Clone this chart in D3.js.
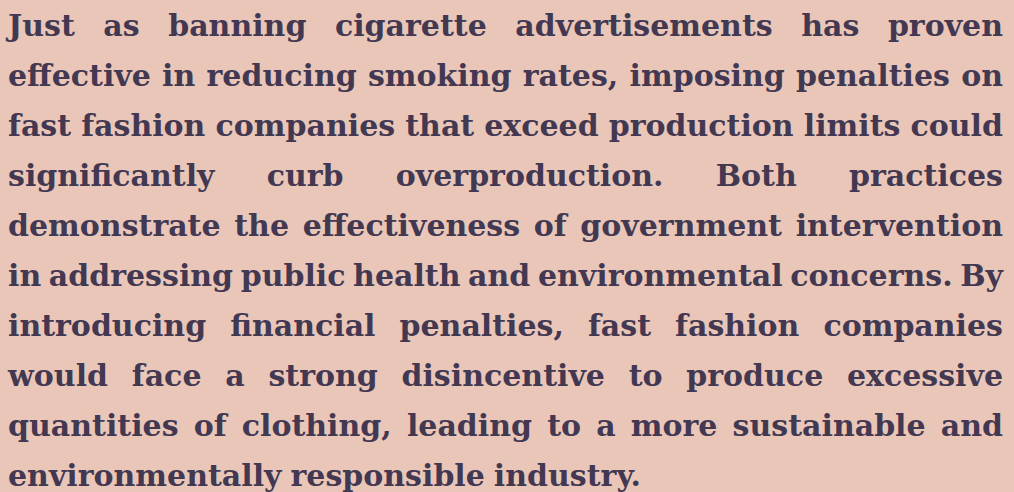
<!DOCTYPE html>
<html>
<head>
<meta charset="utf-8">
<script src="https://cdn.jsdelivr.net/npm/d3@7"></script>
<style>
  html, body { margin: 0; padding: 0; background: #e9c6b8; overflow: hidden; }
</style>
</head>
<body>
<div id="chart"></div>
<script>
var width = 1014,
    height = 492,
    left = 8,
    right = 1003,
    fontSize = 30,
    minGap = 7;

// the paragraph, one entry per rendered line
var lines = [
  'Just as banning cigarette advertisements has proven',
  'effective in reducing smoking rates, imposing penalties on',
  'fast fashion companies that exceed production limits could',
  'significantly curb overproduction. Both practices',
  'demonstrate the effectiveness of government intervention',
  'in addressing public health and environmental concerns. By',
  'introducing financial penalties, fast fashion companies',
  'would face a strong disincentive to produce excessive',
  'quantities of clothing, leading to a more sustainable and',
  'environmentally responsible industry.'
];
var lastLine = lines.length - 1;

var svg = d3.select('#chart')
  .append('svg')
  .attr('width', width)
  .attr('height', height)
  .style('display', 'block');

svg.append('rect')
  .attr('width', width)
  .attr('height', height)
  .attr('fill', '#e9c6b8');

var y = d3.scaleLinear()
  .domain([0, lines.length - 1])
  .range([36, 486]);

var rows = svg.selectAll('g.line')
  .data(lines)
  .enter()
  .append('g')
  .attr('class', 'line')
  .attr('transform', function(d, i){ return 'translate(0,' + y(i) + ')'; });

rows.each(function(line, i){
  var g = d3.select(this),
      words = line.split(' ');

  var t = g.selectAll('text')
    .data(words)
    .enter()
    .append('text')
    .attr('font-family', '"DejaVu Serif", serif')
    .attr('font-weight', 'bold')
    .attr('font-size', fontSize)
    .attr('fill', '#433852')
    .text(function(d){ return d; });

  var widths = [];
  t.each(function(){ widths.push(this.getComputedTextLength()); });
  var total = d3.sum(widths),
      avail = right - left,
      gap = i === lastLine ? fontSize * 0.3 : (avail - total) / (words.length - 1),
      squeeze = 1;

  // keep tight lines inside the column
  if (gap < minGap) {
    squeeze = (avail - minGap * (words.length - 1)) / total;
    gap = minGap;
  }

  var offsets = [], x = left;
  widths.forEach(function(w){ offsets.push(x); x += w * squeeze + gap; });

  var xs = d3.scaleOrdinal().domain(d3.range(words.length)).range(offsets);

  t.attr('x', function(d, j){ return xs(j); });
  if (squeeze < 1) {
    t.attr('textLength', function(d, j){ return widths[j] * squeeze; })
     .attr('lengthAdjust', 'spacingAndGlyphs');
  }
});
</script>
</body>
</html>
